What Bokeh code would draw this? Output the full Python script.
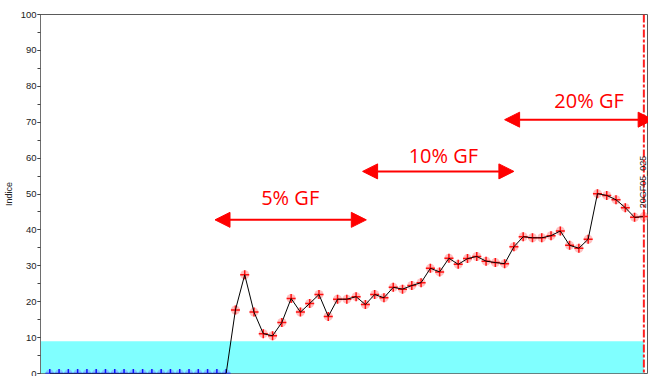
from bokeh.plotting import figure
from bokeh.models import (Range1d, SingleIntervalTicker, Span, Label, Arrow,
                          NormalHead, ColumnDataSource)
from bokeh.embed import file_html
from bokeh.resources import INLINE

# --- data -----------------------------------------------------------------
# index values before growth-factor feeding (control run)
control = [0, 0, 0, 0, 0, 0, 0, 0, 0, 0,
           0, 0, 0, 0, 0, 0, 0, 0, 0, 0]
# index values during the GF feeding run
treated = [17.7, 27.5, 17.1, 11.1, 10.5, 14.2, 20.9, 17.1, 19.5, 22.0,
           15.9, 20.7, 20.7, 21.4, 19.2, 22.0, 21.1, 24.0, 23.5, 24.5,
           25.3, 29.3, 28.3, 32.1, 30.4, 32.0, 32.6, 31.3, 30.9, 30.6,
           35.3, 38.1, 37.8, 37.8, 38.4, 39.7, 35.7, 34.9, 37.4, 50.1,
           49.6, 48.4, 46.2, 43.5, 43.7]
threshold = 9
marker_label = "20GF05_025"
phase_labels = ["5% GF", "10% GF", "20% GF"]

n_ctrl = len(control)
x_ctrl = list(range(n_ctrl))
x_trt = list(range(n_ctrl, n_ctrl + len(treated)))
x_all = x_ctrl + x_trt
y_all = control + treated
last = x_all[-1]

p = figure(width=648, height=376,
           x_range=Range1d(-1, last + 0.5), y_range=Range1d(0, 100),
           x_axis_location=None,
           output_backend="svg", toolbar_location=None,
           min_border_left=39, min_border_right=0,
           min_border_top=14, min_border_bottom=3)
p.background_fill_color = "white"
p.border_fill_color = "white"
p.outline_line_color = "#5a5a5a"
p.outline_line_width = 1
p.xgrid.visible = False
p.ygrid.visible = False

ax = p.yaxis[0]
ax.ticker = SingleIntervalTicker(interval=10, num_minor_ticks=2)
ax.axis_label = "Indice"
ax.axis_label_text_font = "Liberation Sans"
ax.axis_label_text_font_size = "9px"
ax.axis_label_text_font_style = "normal"
ax.axis_label_text_color = "#222222"
ax.axis_label_standoff = 4
ax.major_label_text_font = "Liberation Sans"
ax.major_label_text_font_size = "9.5px"
ax.major_label_text_color = "#222222"
ax.major_label_standoff = 1
ax.major_tick_out = 3
ax.major_tick_in = 0
ax.minor_tick_out = 3
ax.minor_tick_in = 0
ax.axis_line_color = "#6e6e6e"
ax.major_tick_line_color = "#444444"
ax.minor_tick_line_color = "#444444"

# lower threshold band
p.quad(left=-1, right=last, bottom=0, top=threshold,
       fill_color="#80ffff", line_color=None)

ctrl_src = ColumnDataSource(dict(x=x_ctrl, y=control))
trt_src = ColumnDataSource(dict(x=x_trt, y=treated))

# halos under the markers
p.scatter("x", "y", source=ctrl_src, marker="circle", size=8,
          fill_color="#8080ff", fill_alpha=0.45, line_color=None)
p.scatter("x", "y", source=trt_src, marker="circle", size=9,
          fill_color="#ff7070", fill_alpha=0.45, line_color=None)
p.scatter("x", "y", source=ctrl_src, marker="cross", size=9,
          line_color="#1010ff", line_width=1.5)
p.scatter("x", "y", source=trt_src, marker="cross", size=9,
          line_color="#ff1010", line_width=1.5)

# index trace
p.line(x_all, y_all, line_color="black", line_width=1)

# sample marker
p.add_layout(Span(location=last, dimension="height", line_color="#ff2020",
                  line_width=2, line_dash="8 2 3 2"))
p.add_layout(Label(x=last, y=46, text=marker_label, angle=1.5708,
                   text_align="left", text_baseline="middle",
                   text_font="Liberation Sans", text_font_size="9px",
                   text_color="#222222", x_offset=-1))

# feeding phases: double arrows with captions
spans = [(17.8, 34.1, 42.8), (33.7, 50.0, 56.3), (49.0, 65.0, 70.7)]
caption_x = [25.9, 42.4, 58.1]
caption_offsets = [22, 16, 19]
for lab, (x0, x1, yv), cx, off in zip(phase_labels, spans, caption_x,
                                      caption_offsets):
    p.add_layout(Arrow(x_start=x0, y_start=yv, x_end=x1, y_end=yv,
                       line_color="#ff0000", line_width=2,
                       start=NormalHead(size=15, fill_color="#ff0000",
                                        line_color="#ff0000"),
                       end=NormalHead(size=15, fill_color="#ff0000",
                                      line_color="#ff0000")))
    p.add_layout(Label(x=cx, y=yv, y_offset=off, text=lab,
                       text_align="center", text_baseline="alphabetic",
                       text_font="Open Sans", text_font_size="20px",
                       text_color="#ff0000"))

open("out.html", "w").write(file_html(p, INLINE))
